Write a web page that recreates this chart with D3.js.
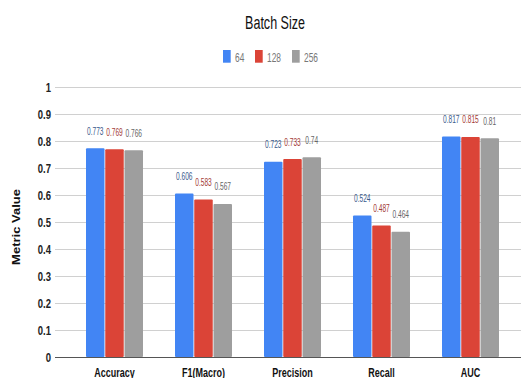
<!DOCTYPE html>
<html>
<head>
<meta charset="utf-8">
<script src="https://cdn.jsdelivr.net/npm/d3@7"></script>
<style>
  html, body { margin: 0; padding: 0; background: #fff; }
  svg { display: block; font-family: "Liberation Sans", Arial, sans-serif; }
</style>
</head>
<body>
<svg id="chart" width="521" height="378"></svg>
<script>
// Metrics per batch size
const categories = ["Accuracy", "F1(Macro)", "Precision", "Recall", "AUC"];
const seriesNames = ["64", "128", "256"];
const values64  = [0.773, 0.606, 0.723, 0.524, 0.817];
const values128 = [0.769, 0.583, 0.733, 0.487, 0.815];
const values256 = [0.766, 0.567, 0.74, 0.464, 0.81];
const yTicks = [0, 0.1, 0.2, 0.3, 0.4, 0.5, 0.6, 0.7, 0.8, 0.9, 1];

const seriesValues = [values64, values128, values256];
const barColors = ["#4285f4", "#db4437", "#9e9e9e"];
const labelColors = ["#3a5a8c", "#a33b35", "#666666"];

const svg = d3.select("#chart");

const x = d3.scaleBand().domain(categories).range([70, 515]);
const inner = d3.scaleBand().domain(seriesNames).range([0, 57]).paddingInner(0.04);
const y = d3.scaleLinear().domain([0, 1]).range([357, 87]);

// Gridlines
svg.append("g").selectAll("line").data(yTicks.filter(d => d > 0)).join("line")
  .attr("x1", 55).attr("x2", 521)
  .attr("y1", d => Math.round(y(d)) + 0.5).attr("y2", d => Math.round(y(d)) + 0.5)
  .attr("stroke", "#d0d0d0").attr("stroke-width", 1);

// Y tick labels
const yAxis = d3.axisLeft(y).tickValues(yTicks).tickFormat(d3.format("~g")).tickSize(0).tickPadding(0);
const yg = svg.append("g").attr("transform", "translate(51,0)").call(yAxis);
yg.select(".domain").remove();
yg.selectAll(".tick text")
  .attr("font-family", "Liberation Sans, Arial, sans-serif")
  .attr("font-weight", "bold").attr("font-size", 12.5).attr("fill", "#222")
  .attr("dy", "0.35em").attr("x", 0)
  .attr("transform", "scale(0.76,1)");

// Bars
const groups = svg.append("g").selectAll("g").data(categories).join("g")
  .attr("transform", d => `translate(${x(d) + (x.bandwidth() - 57) / 2},0)`);

groups.each(function(cat, ci) {
  const g = d3.select(this);
  seriesNames.forEach((s, si) => {
    const v = seriesValues[si][ci];
    g.append("rect")
      .attr("x", inner(s)).attr("width", inner.bandwidth())
      .attr("y", y(v)).attr("height", y(0) - y(v))
      .attr("rx", 1)
      .attr("fill", barColors[si]);
    g.append("text")
      .attr("transform", `translate(${inner(s) + inner.bandwidth() / 2},${y(v) - 13.5}) scale(0.6,1)`)
      .attr("text-anchor", "middle")
      .attr("font-size", 11)
      .attr("fill", labelColors[si])
      .text(d3.format("~g")(v));
  });
});

// Baseline
svg.append("line")
  .attr("x1", 55).attr("x2", 521)
  .attr("y1", y(0) + 0.5).attr("y2", y(0) + 0.5)
  .attr("stroke", "#555").attr("stroke-width", 1.2);

// X category labels
const xAxis = d3.axisBottom(x).tickSize(0).tickPadding(0);
const xg = svg.append("g").attr("transform", "translate(0,368)").call(xAxis);
xg.select(".domain").remove();
xg.selectAll(".tick text")
  .attr("font-family", "Liberation Sans, Arial, sans-serif")
  .attr("font-weight", "bold").attr("font-size", 12.5).attr("fill", "#111")
  .attr("y", 0).attr("dy", "0.71em")
  .attr("transform", "scale(0.72,1)");

// Title
svg.append("text")
  .attr("transform", "translate(275,29) scale(0.66,1)")
  .attr("text-anchor", "middle")
  .attr("font-size", 19).attr("fill", "#111")
  .text("Batch Size");

// Legend
const legendX = [223, 255, 292];
const legend = svg.append("g").selectAll("g").data(seriesNames).join("g")
  .attr("transform", (d, i) => `translate(${legendX[i]},50)`);
legend.append("rect").attr("width", 7.7).attr("height", 12.7)
  .attr("fill", (d, i) => barColors[i]);
legend.append("text")
  .attr("transform", "translate(12,11.5) scale(0.62,1)")
  .attr("font-size", 13.5).attr("fill", "#777")
  .text(d => d);

// Y-axis title
svg.append("text")
  .attr("transform", "translate(20,227) scale(0.8,1) rotate(-90)")
  .attr("text-anchor", "middle")
  .attr("font-weight", "bold").attr("font-size", 13).attr("fill", "#111")
  .text("Metric Value");
</script>
</body>
</html>
